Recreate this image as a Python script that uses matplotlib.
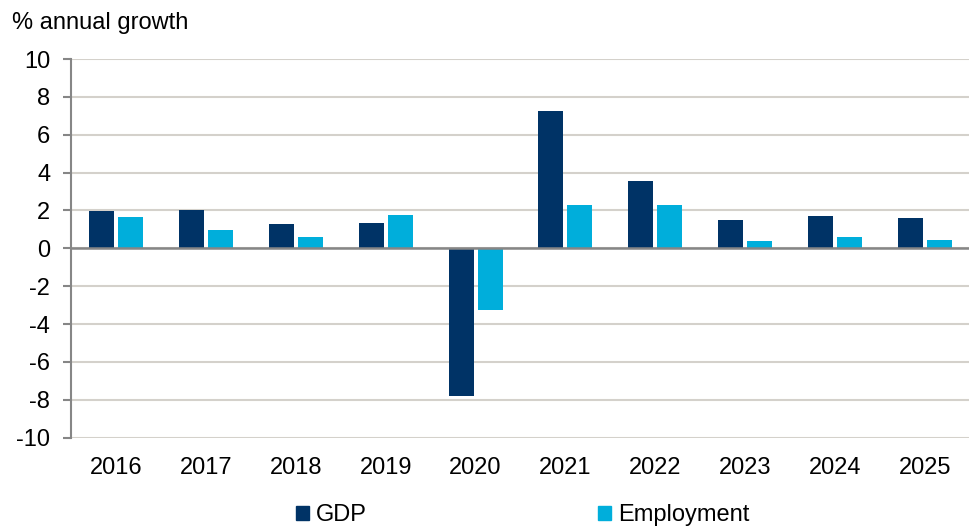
import matplotlib
matplotlib.use("Agg")
import matplotlib.pyplot as plt
import numpy as np
from matplotlib.patches import Patch

years = ["2016", "2017", "2018", "2019", "2020", "2021", "2022", "2023", "2024", "2025"]
gdp = [1.95, 2.0, 1.27, 1.36, -7.8, 7.28, 3.56, 1.5, 1.73, 1.59]
employment = [1.66, 0.99, 0.58, 1.75, -3.24, 2.31, 2.31, 0.37, 0.58, 0.42]
yticks = list(range(-10, 11, 2))

plt.rcParams['font.family'] = ['Liberation Sans', 'DejaVu Sans']
FS = 17

fig = plt.figure(figsize=(9.7, 5.26), dpi=100)
ax = fig.add_axes([71/970, 1-437.7/526, (970-71)/970, (437.7-59)/526])

x = np.arange(len(years))
w = 0.278
gap = 0.044
c_gdp = "#003366"
c_emp = "#00AEDB"
ax.bar(x - (w+gap)/2, gdp, w, color=c_gdp, zorder=3)
ax.bar(x + (w+gap)/2, employment, w, color=c_emp, zorder=3)

ax.set_xlim(-0.5, len(years)-0.5)
ax.set_ylim(-10, 10)
ax.set_yticks(yticks)
ax.set_yticklabels([str(t) for t in yticks], fontsize=FS)
ax.set_xticks(x)
ax.set_xticklabels(years, fontsize=FS)
ax.tick_params(axis='x', length=0, pad=14)
ax.tick_params(axis='y', length=6, width=1.5, color="#868686", pad=9)
ax.yaxis.grid(True, color="#d4d1cb", linewidth=1.5, zorder=0)
ax.set_axisbelow(True)
for s in ["top", "right", "bottom"]:
    ax.spines[s].set_visible(False)
ax.spines["left"].set_color("#868686")
ax.spines["left"].set_linewidth(1.5)
ax.axhline(0, color="#868686", linewidth=1.8, zorder=4)

fig.text(12/970, 1-23/526, "% annual growth", fontsize=FS, ha="left", va="center")

handles = [Patch(color=c_gdp, label="GDP"), Patch(color=c_emp, label="Employment")]
fig.legend(handles=handles, loc="center", bbox_to_anchor=(0.539, 1-515/526), ncol=2,
           frameon=False, fontsize=FS, handlelength=0.55, handleheight=0.55,
           handletextpad=0.3, columnspacing=9.8)

fig.savefig("out.png", dpi=100)
